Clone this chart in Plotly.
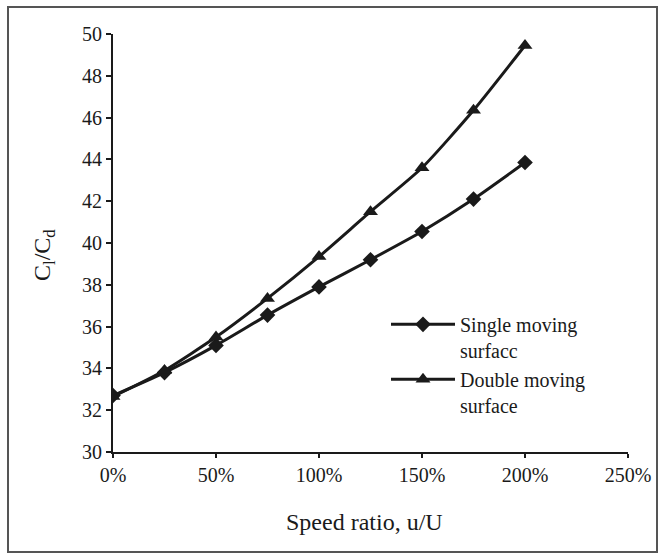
import plotly.graph_objects as go

speed_ratio = [0, 25, 50, 75, 100, 125, 150, 175, 200]
single_moving = [32.7, 33.8, 35.1, 36.55, 37.9, 39.2, 40.55, 42.1, 43.85]
double_moving = [32.65, 33.9, 35.5, 37.35, 39.35, 41.5, 43.6, 46.35, 49.45]
x_ticks = [0, 50, 100, 150, 200, 250]
y_ticks = [30, 32, 34, 36, 38, 40, 42, 44, 46, 48, 50]

FONT = "Liberation Serif, Times New Roman, serif"
INK = "#1a1a1a"

fig = go.Figure()
fig.add_trace(go.Scatter(
    x=speed_ratio, y=single_moving, mode="lines+markers",
    name="Single moving<br>surfacc",
    line=dict(color=INK, width=3, shape="spline", smoothing=0.6),
    marker=dict(symbol="diamond", size=12, color=INK),
))
fig.add_trace(go.Scatter(
    x=speed_ratio, y=double_moving, mode="lines+markers",
    name="Double moving<br>surface",
    line=dict(color=INK, width=3, shape="spline", smoothing=0.6),
    marker=dict(symbol="triangle-up", size=13, color=INK),
))

L, R, T, B = 113, 37, 34, 103
W, H = 665, 555
pw, ph = W - L - R, H - T - B


def px(x):
    return (x - L) / pw


def py(y):
    return (H - B - y) / ph


fig.update_layout(
    width=W, height=H,
    margin=dict(l=L, r=R, t=T, b=B),
    paper_bgcolor="white", plot_bgcolor="white",
    font=dict(family=FONT, size=20, color=INK),
    showlegend=True,
    legend=dict(
        x=px(386), y=0.352, xanchor="left", yanchor="top",
        bgcolor="rgba(0,0,0,0)", font=dict(family=FONT, size=20, color=INK),
        itemwidth=64, tracegroupgap=0, valign="top",
    ),
    xaxis=dict(
        range=[0, 250], tickvals=x_ticks, ticktext=[f"{v}%" for v in x_ticks],
        showgrid=False, zeroline=False, showline=True, linecolor=INK, linewidth=2,
        ticks="outside", ticklen=4, tickwidth=1.5, tickcolor=INK,
        tickfont=dict(family=FONT, size=20, color=INK),
    ),
    yaxis=dict(
        range=[30, 50], tickvals=y_ticks,
        showgrid=False, zeroline=False, showline=True, linecolor=INK, linewidth=2,
        ticks="outside", ticklen=5, tickwidth=1.5, tickcolor=INK,
        tickfont=dict(family=FONT, size=20, color=INK),
    ),
    annotations=[
        dict(text="Speed ratio, u/U", xref="paper", yref="paper", x=px(364), y=py(522),
             xanchor="center", yanchor="middle", showarrow=False,
             font=dict(family=FONT, size=24, color=INK)),
        dict(text="C<sub>l</sub>/C<sub>d</sub>", xref="paper", yref="paper", x=px(44), y=py(255),
             xanchor="center", yanchor="middle", showarrow=False, textangle=-90,
             font=dict(family=FONT, size=24, color=INK)),
    ],
    shapes=[dict(
        type="rect", xref="paper", yref="paper",
        x0=px(8), x1=px(657), y0=py(552), y1=py(7),
        line=dict(color="#555", width=2), fillcolor="rgba(0,0,0,0)", layer="below",
    )],
)

fig.write_html("out.html")
